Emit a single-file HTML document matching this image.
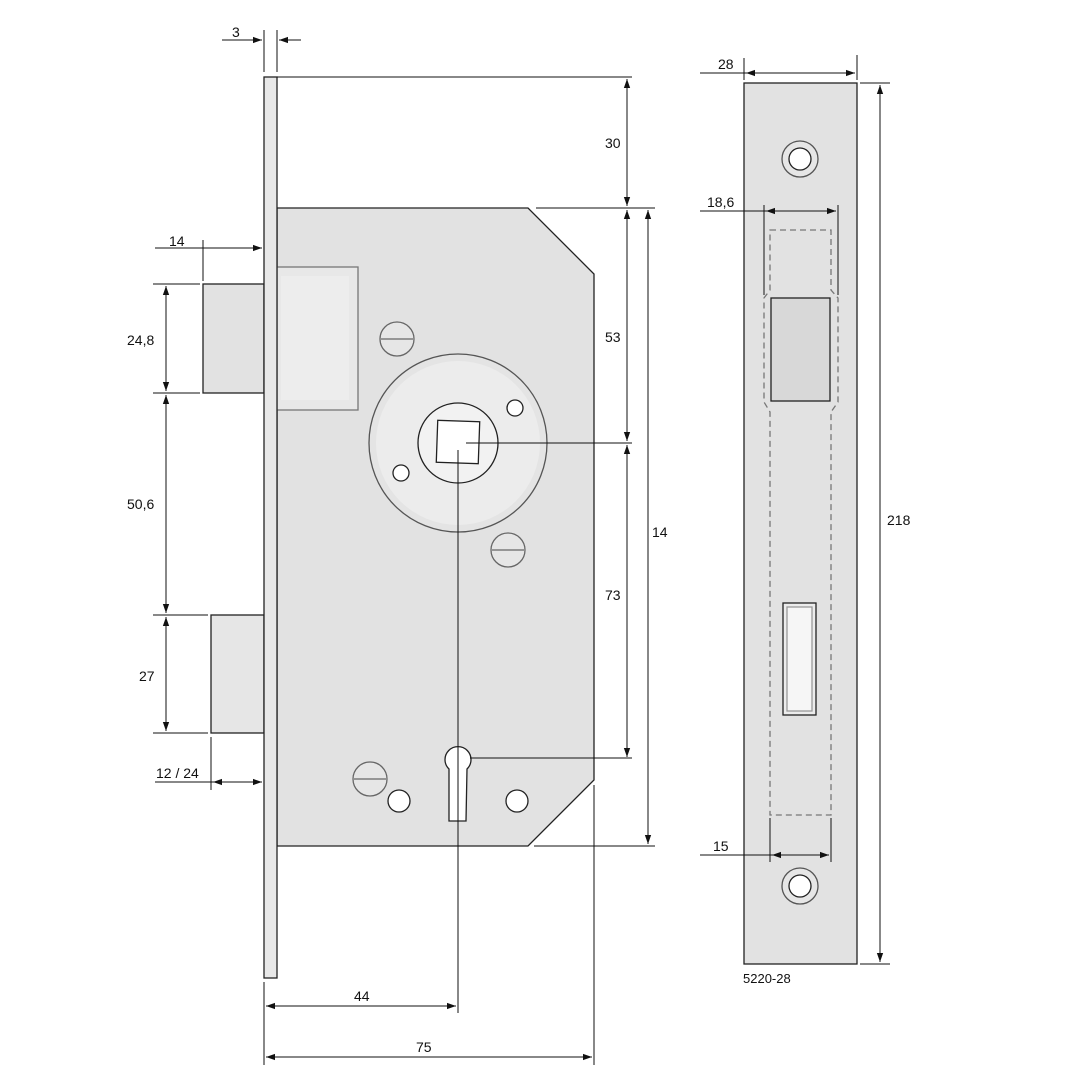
<!DOCTYPE html>
<html><head><meta charset="utf-8"><style>
html,body{margin:0;padding:0;background:#fff}
svg{display:block}
text{font-family:"Liberation Sans",sans-serif;font-size:14px;fill:#111}
</style></head><body>
<svg width="1080" height="1080" viewBox="0 0 1080 1080" xmlns="http://www.w3.org/2000/svg">
<defs>
<marker id="a" viewBox="0 0 10 10" refX="10" refY="5" markerWidth="9" markerHeight="9" orient="auto-start-reverse" markerUnits="userSpaceOnUse"><path d="M0,1.5 L10,5 L0,8.5 Z" fill="#111"/></marker>
</defs>
<g stroke="#222" stroke-width="1.3" fill="#e2e2e2">
<!-- lock body -->
<path d="M277,208 L528,208 L594,274 L594,780 L528,846 L277,846 Z"/>
<!-- latch -->
<rect x="203" y="284" width="61" height="109"/>
<rect x="211" y="615" width="53" height="118" fill="#e6e6e6"/>
<!-- inner latch rect -->
<rect x="277" y="267" width="81" height="143" fill="#e8e8e8" stroke="#777"/>
<rect x="281" y="276" width="68" height="124" fill="#ededed" stroke="none"/>
<!-- faceplate -->
<rect x="264" y="77" width="13" height="901" fill="#e8e8e8"/>
<!-- rosette -->
<circle cx="458" cy="443" r="89" fill="#e4e4e4" stroke="#555"/>
<circle cx="458" cy="443" r="82" fill="#ececec" stroke="none"/>
<circle cx="458" cy="443" r="40" fill="#f2f2f2"/>
<rect x="437" y="421" width="42" height="42" fill="#fff" transform="rotate(2 458 442)"/>
<circle cx="515" cy="408" r="8" fill="#fff"/>
<circle cx="401" cy="473" r="8" fill="#fff"/>
<!-- screws -->
<g stroke="#666"><circle cx="397" cy="339" r="17" fill="#e6e6e6"/><line x1="381" y1="339" x2="413" y2="339"/>
<circle cx="508" cy="550" r="17" fill="#e6e6e6"/><line x1="492" y1="550" x2="524" y2="550"/>
<circle cx="370" cy="779" r="17" fill="#e6e6e6"/><line x1="354" y1="779" x2="386" y2="779"/></g>
<circle cx="399" cy="801" r="11" fill="#fff"/>
<circle cx="517" cy="801" r="11" fill="#fff"/>
<!-- keyhole -->
<path d="M449,769 A13,13 0 1 1 467,769 L466,821 L449,821 Z" fill="#fff"/>
<!-- side plate -->
<rect x="744" y="83" width="113" height="881" fill="#e2e2e2"/>
<circle cx="800" cy="159" r="18" fill="#e6e6e6" stroke="#555"/><circle cx="800" cy="159" r="11" fill="#fff"/>
<circle cx="800" cy="886" r="18" fill="#e6e6e6" stroke="#555"/><circle cx="800" cy="886" r="11" fill="#fff"/>
<path d="M770,230 L831,230 L831,290 L838,298 L838,402 L831,412 L831,815 L770,815 L770,412 L764,402 L764,298 L770,290 Z" fill="none" stroke="#777" stroke-dasharray="6,4"/>
<rect x="771" y="298" width="59" height="103" fill="#d8d8d8"/>
<rect x="783" y="603" width="33" height="112" fill="#ececec"/>
<rect x="787" y="607" width="25" height="104" fill="#f6f6f6" stroke="#999"/>
</g>
<!-- dimension lines -->
<g stroke="#111" stroke-width="1" fill="none">
<line x1="277" y1="77" x2="632" y2="77"/>
<line x1="536" y1="208" x2="655" y2="208"/>
<line x1="534" y1="846" x2="655" y2="846"/>
<line x1="627" y1="79" x2="627" y2="206" marker-start="url(#a)" marker-end="url(#a)"/>
<line x1="627" y1="210" x2="627" y2="441" marker-start="url(#a)" marker-end="url(#a)"/>
<line x1="627" y1="445" x2="627" y2="757" marker-start="url(#a)" marker-end="url(#a)"/>
<line x1="648" y1="210" x2="648" y2="844" marker-start="url(#a)" marker-end="url(#a)"/>
<line x1="466" y1="443" x2="632" y2="443"/>
<line x1="470" y1="758" x2="632" y2="758"/>
<line x1="458" y1="450" x2="458" y2="1013"/>
<line x1="594" y1="785" x2="594" y2="1065"/>
<line x1="264" y1="982" x2="264" y2="1065"/>
<line x1="266" y1="1006" x2="456" y2="1006" marker-start="url(#a)" marker-end="url(#a)"/>
<line x1="266" y1="1057" x2="592" y2="1057" marker-start="url(#a)" marker-end="url(#a)"/>
<line x1="264" y1="30" x2="264" y2="72"/><line x1="277" y1="30" x2="277" y2="72"/>
<line x1="222" y1="40" x2="262" y2="40" marker-end="url(#a)"/>
<line x1="301" y1="40" x2="279" y2="40" marker-end="url(#a)"/>
<line x1="203" y1="240" x2="203" y2="281"/>
<line x1="155" y1="248" x2="262" y2="248" marker-end="url(#a)"/>
<line x1="153" y1="284" x2="200" y2="284"/><line x1="153" y1="393" x2="200" y2="393"/>
<line x1="153" y1="615" x2="208" y2="615"/><line x1="153" y1="733" x2="208" y2="733"/>
<line x1="166" y1="286" x2="166" y2="391" marker-start="url(#a)" marker-end="url(#a)"/>
<line x1="166" y1="395" x2="166" y2="613" marker-start="url(#a)" marker-end="url(#a)"/>
<line x1="166" y1="617" x2="166" y2="731" marker-start="url(#a)" marker-end="url(#a)"/>
<line x1="211" y1="737" x2="211" y2="790"/>
<line x1="155" y1="782" x2="262" y2="782"/>
<line x1="213" y1="782" x2="262" y2="782" marker-start="url(#a)" marker-end="url(#a)"/>
<line x1="744" y1="58" x2="744" y2="80"/><line x1="857" y1="55" x2="857" y2="80"/>
<line x1="700" y1="73" x2="855" y2="73"/>
<line x1="746" y1="73" x2="855" y2="73" marker-start="url(#a)" marker-end="url(#a)"/>
<line x1="860" y1="83" x2="890" y2="83"/><line x1="860" y1="964" x2="890" y2="964"/>
<line x1="880" y1="85" x2="880" y2="962" marker-start="url(#a)" marker-end="url(#a)"/>
<line x1="764" y1="205" x2="764" y2="295"/><line x1="838" y1="205" x2="838" y2="295"/>
<line x1="700" y1="211" x2="836" y2="211"/>
<line x1="766" y1="211" x2="836" y2="211" marker-start="url(#a)" marker-end="url(#a)"/>
<line x1="770" y1="818" x2="770" y2="862"/><line x1="831" y1="818" x2="831" y2="862"/>
<line x1="700" y1="855" x2="829" y2="855"/>
<line x1="772" y1="855" x2="829" y2="855" marker-start="url(#a)" marker-end="url(#a)"/>
</g>
<text x="232" y="37">3</text>
<text x="605" y="148">30</text>
<text x="605" y="342">53</text>
<text x="605" y="600">73</text>
<text x="652" y="537">14</text>
<text x="169" y="246">14</text>
<text x="127" y="345">24,8</text>
<text x="127" y="509">50,6</text>
<text x="139" y="681">27</text>
<text x="156" y="778">12 / 24</text>
<text x="354" y="1001">44</text>
<text x="416" y="1052">75</text>
<text x="718" y="69">28</text>
<text x="707" y="207">18,6</text>
<text x="713" y="851">15</text>
<text x="887" y="525">218</text>
<text x="743" y="983" style="font-size:13px">5220-28</text>
</svg>
</body></html>
